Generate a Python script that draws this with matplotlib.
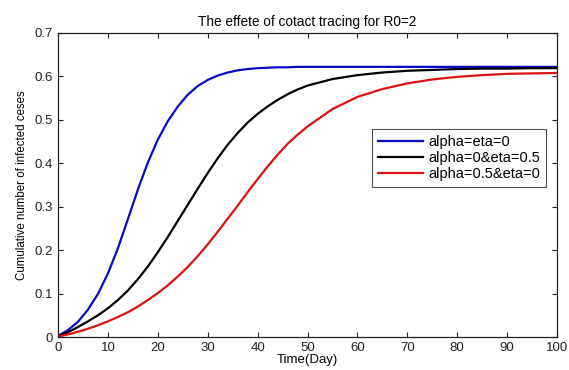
import numpy as np
import matplotlib
matplotlib.use('Agg')
import matplotlib.pyplot as plt

plt.rcParams['font.family'] = ['Liberation Sans', 'DejaVu Sans']

# time points (days) and cumulative infected fraction for each scenario
days = [0, 2, 4, 6, 8, 10, 12, 14, 16, 18, 20, 22, 24, 26, 28, 30, 32, 34, 36, 38, 40,
        42, 44, 46, 48, 50, 55, 60, 65, 70, 75, 80, 85, 90, 95, 100]

blue_vals = [0.003, 0.017, 0.036, 0.064, 0.100, 0.147, 0.205, 0.272, 0.340, 0.402, 0.455,
             0.497, 0.531, 0.558, 0.578, 0.592, 0.602, 0.609, 0.614, 0.617, 0.619,
             0.620, 0.621, 0.621, 0.622, 0.622, 0.622, 0.622, 0.622, 0.622, 0.622,
             0.622, 0.622, 0.622, 0.622, 0.622]

black_vals = [0.003, 0.012, 0.024, 0.037, 0.051, 0.067, 0.086, 0.108, 0.134, 0.163, 0.196,
              0.231, 0.268, 0.305, 0.342, 0.378, 0.412, 0.443, 0.470, 0.494, 0.514,
              0.531, 0.546, 0.559, 0.570, 0.579, 0.594, 0.603, 0.609, 0.613, 0.615,
              0.617, 0.618, 0.618, 0.619, 0.619]

red_vals = [0.002, 0.007, 0.013, 0.020, 0.028, 0.037, 0.047, 0.058, 0.071, 0.086, 0.102,
            0.120, 0.140, 0.162, 0.187, 0.214, 0.243, 0.273, 0.303, 0.334, 0.364,
            0.393, 0.420, 0.445, 0.466, 0.485, 0.525, 0.553, 0.571, 0.584, 0.593,
            0.599, 0.603, 0.606, 0.607, 0.608]

labels = ['alpha=eta=0', 'alpha=0&eta=0.5', 'alpha=0.5&eta=0']
colors = ['#0a0ac4', '#000000', '#dd1111']

xticks = np.arange(0, 101, 10)
yticks = np.arange(0, 0.71, 0.1)

fig = plt.figure(figsize=(5.69, 3.70), dpi=100)
ax = fig.add_axes([0.102, 0.088, 0.877, 0.823])

for vals, c, lab in zip([blue_vals, black_vals, red_vals], colors, labels):
    ax.plot(days, vals, color=c, lw=1.6, label=lab)

ax.set_xlim(0, 100)
ax.set_ylim(0, 0.7)
ax.set_xticks(xticks)
ax.set_yticks(yticks)
ax.set_yticklabels(['0'] + ['%.1f' % v for v in yticks[1:]])
ax.tick_params(direction='in', length=3.5, width=0.8, labelsize=9.5,
               top=True, right=True, colors='#222222')
for s in ax.spines.values():
    s.set_linewidth(0.9)
    s.set_color('#222222')

ax.set_title('The effete of cotact tracing for R0=2', fontsize=9.8, pad=5)
ax.set_xlabel('Time(Day)', fontsize=9.5, labelpad=0)
ax.set_ylabel('Cumulative number of infected ceses', fontsize=8.3, labelpad=5)

leg = ax.legend(loc='upper left', bbox_to_anchor=(0.63, 0.685), fontsize=10.5,
                frameon=True, fancybox=False, handlelength=3.1, borderpad=0.4,
                labelspacing=0.15, handletextpad=0.35, borderaxespad=0)
leg.get_frame().set_edgecolor('#222222')
leg.get_frame().set_linewidth(0.8)

fig.savefig('out.png', dpi=100)
